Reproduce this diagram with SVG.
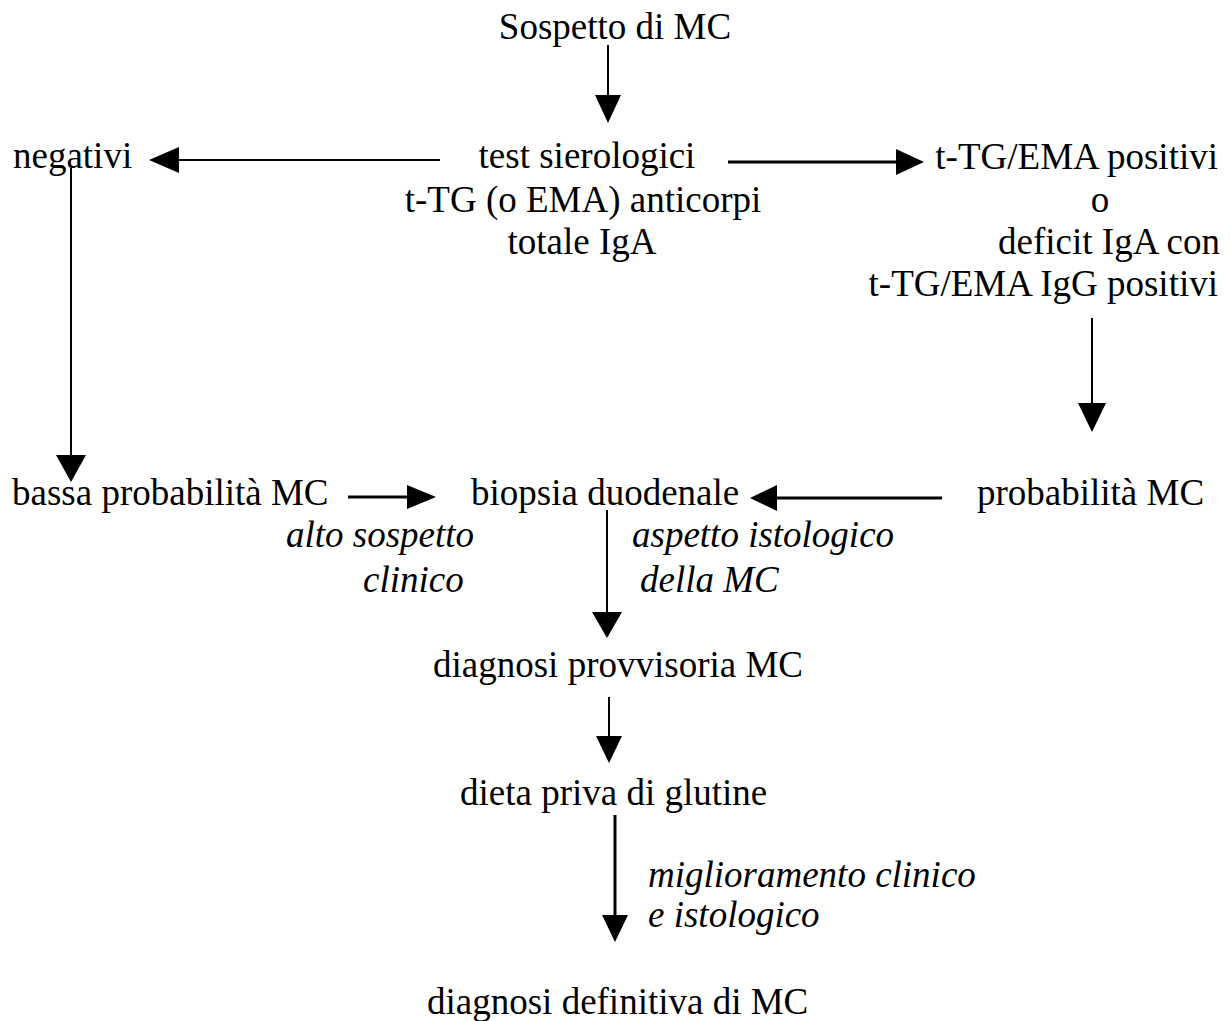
<svg xmlns="http://www.w3.org/2000/svg" width="1231" height="1021" viewBox="0 0 1231 1021">
<style>
text{font-family:"Liberation Serif","Times New Roman",serif;font-size:37px;fill:#000}
.it{font-style:italic}
.ln{stroke:#000;stroke-width:2;fill:none}
.lt{stroke:#000;stroke-width:3;fill:none}
.hd{fill:#000;stroke:none}
</style>
<rect width="1231" height="1021" fill="#fff"/>
<g id="connectors">
<line class="ln" x1="608" y1="45" x2="608" y2="100"/><polygon class="hd" points="595,95 621,95 608,123"/>
<line class="ln" x1="440" y1="160" x2="170" y2="160"/><polygon class="hd" points="179,147 179,173 149,160"/>
<line class="lt" x1="728" y1="162" x2="900" y2="162"/><polygon class="hd" points="896,149 896,175 924,162"/>
<line class="ln" x1="71" y1="168" x2="71" y2="460"/><polygon class="hd" points="56,455 86,455 71,482"/>
<line class="ln" x1="1092" y1="318" x2="1092" y2="408"/><polygon class="hd" points="1078,403 1106,403 1092,432"/>
<line class="lt" x1="348" y1="497" x2="412" y2="497"/><polygon class="hd" points="407,485 407,509 436,497"/>
<line class="lt" x1="942" y1="498" x2="772" y2="498"/><polygon class="hd" points="777,485 777,511 750,498"/>
<line class="ln" x1="607" y1="510" x2="607" y2="617"/><polygon class="hd" points="592,612 622,612 607,638"/>
<line class="ln" x1="609" y1="697" x2="609" y2="741"/><polygon class="hd" points="596,736 622,736 609,763"/>
<line class="lt" x1="615" y1="815" x2="615" y2="920"/><polygon class="hd" points="602,915 628,915 615,942"/>
</g>
<g id="n-sospetto"><text x="615" y="39" text-anchor="middle">Sospetto di MC</text></g>
<g id="n-negativi"><text x="13" y="168">negativi</text></g>
<g id="n-test"><text x="587" y="168" text-anchor="middle">test sierologici</text><text x="583" y="212" text-anchor="middle">t-TG (o EMA) anticorpi</text><text x="582" y="254" text-anchor="middle">totale IgA</text></g>
<g id="n-positivi"><text x="1218" y="169" text-anchor="end">t-TG/EMA positivi</text><text x="1100" y="212" text-anchor="middle">o</text><text x="1220" y="254" text-anchor="end">deficit IgA con</text><text x="1218" y="296" text-anchor="end">t-TG/EMA IgG positivi</text></g>
<g id="n-bassa"><text x="12" y="505">bassa probabilità MC</text></g>
<g id="n-biopsia"><text x="471" y="505">biopsia duodenale</text></g>
<g id="n-probabilita"><text x="977" y="505">probabilità MC</text></g>
<g id="l-alto"><text class="it" x="286" y="547">alto sospetto</text><text class="it" x="363" y="592">clinico</text></g>
<g id="l-aspetto"><text class="it" x="632" y="547">aspetto istologico</text><text class="it" x="640" y="592">della MC</text></g>
<g id="n-provvisoria"><text x="433" y="677">diagnosi provvisoria MC</text></g>
<g id="n-dieta"><text x="460" y="805">dieta priva di glutine</text></g>
<g id="l-miglioramento"><text class="it" x="648" y="887">miglioramento clinico</text><text class="it" x="648" y="927">e istologico</text></g>
<g id="n-definitiva"><text x="427" y="1014">diagnosi definitiva di MC</text></g>
</svg>
